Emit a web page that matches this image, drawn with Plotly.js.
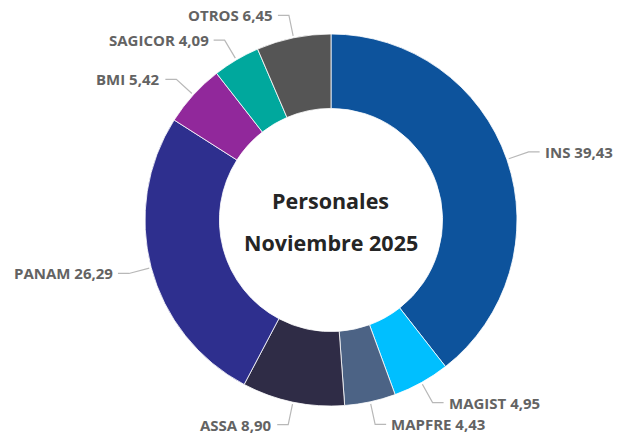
<!DOCTYPE html>
<html><head><meta charset="utf-8">
<script src="https://cdn.plot.ly/plotly-3.0.1.min.js"></script>
<style>html,body{margin:0;padding:0;background:#fff}#chart{width:620px;height:437px}</style>
</head><body><div id="chart"></div>
<script>
const categories = ["INS","MAGIST","MAPFRE","ASSA","PANAM","BMI","SAGICOR","OTROS"];
const values = [39.43, 4.95, 4.43, 8.90, 26.29, 5.42, 4.09, 6.45];
const colors = ["#0D539C","#00BFFF","#4C6385","#2F2C46","#2E2F8E","#91289B","#00A89D","#555555"];
const centerTitle = ["Personales","Noviembre 2025"];

const W = 620, H = 437;
const cx = 331, cy = 220, R = 186;
const px2x = x => x / W, py2y = y => 1 - y / H;

const total = values.reduce((a,b)=>a+b,0);
let cum = 0;
const shapes = [], annotations = [];
values.forEach((v,i) => {
  const mid = (cum + v/2) / total * 2 * Math.PI;
  cum += v;
  const s = Math.sin(mid), c = Math.cos(mid);
  const x0 = cx + (R+2)*s, y0 = cy - (R+2)*c;
  const x1 = cx + 209*s, y1 = cy - 209*c;
  const right = s >= 0;
  const x2 = x1 + (right ? 11 : -11);
  shapes.push({type:'path', xref:'paper', yref:'paper',
    path:`M ${px2x(x0)} ${py2y(y0)} L ${px2x(x1)} ${py2y(y1)} L ${px2x(x2)} ${py2y(y1)}`,
    line:{color:'#b8b8b8', width:1.2}});
  annotations.push({xref:'paper', yref:'paper', x:px2x(x2 + (right?3:-3)), y:py2y(y1),
    xanchor: right ? 'left':'right', yanchor:'middle', showarrow:false,
    text: categories[i] + ' ' + v.toFixed(2).replace('.', ','),
    font:{family:'Open Sans', size:15, color:'#636363', weight:700}});
});
annotations.push({xref:'paper', yref:'paper', x:px2x(cx), y:py2y(200), showarrow:false,
  text:centerTitle[0], xanchor:'center', yanchor:'middle',
  font:{family:'Open Sans', size:21.5, color:'#252525', weight:700}});
annotations.push({xref:'paper', yref:'paper', x:px2x(cx), y:py2y(242), showarrow:false,
  text:centerTitle[1], xanchor:'center', yanchor:'middle',
  font:{family:'Open Sans', size:21.5, color:'#252525', weight:700}});

const data = [{
  type:'pie', labels:categories, values:values, hole:0.6, sort:false,
  direction:'clockwise', rotation:0, textinfo:'none', hoverinfo:'label+value',
  marker:{colors:colors, line:{color:'#ffffff', width:0.8}},
  domain:{x:[(cx-R)/W,(cx+R)/W], y:[(H-cy-R)/H,(H-cy+R)/H]}
}];
const layout = {width:W, height:H, margin:{l:0,r:0,t:0,b:0}, showlegend:false,
  paper_bgcolor:'#ffffff', shapes:shapes, annotations:annotations};
Plotly.newPlot('chart', data, layout, {displayModeBar:false, staticPlot:true});
</script></body></html>
